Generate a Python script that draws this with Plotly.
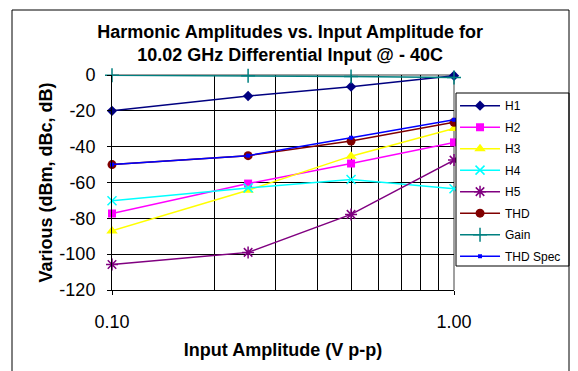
import plotly.graph_objects as go

# Input amplitude (V p-p)
amplitude = [0.10, 0.25, 0.50, 1.00]

# Measured levels for each series (dBm, dBc, dB)
h1 = [-20.0, -11.7, -6.5, -0.4]
h2 = [-77.3, -60.6, -49.4, -37.6]
h3 = [-87.0, -64.3, -45.3, -29.8]
h4 = [-70.2, -63.0, -58.3, -63.5]
h5 = [-105.8, -99.0, -77.8, -47.5]
thd = [-50.0, -45.0, -36.9, -26.4]
gain = [-0.2, -0.4, -0.9, -1.4]
thd_spec = [-50.0, -45.0, -35.0, -25.0]

# Axis ticks
x_tick_vals = [0.1, 1.0]
x_tick_text = ["0.10", "1.00"]
y_tick_vals = [0, -20, -40, -60, -80, -100, -120]
y_tick_text = ["0", "-20", "-40", "-60", "-80", "-100", "-120"]

series = [
    ("H1", h1, "#000080", "diamond", 8, 0),
    ("H2", h2, "#FF00FF", "square", 8, 0),
    ("H3", h3, "#FFFF00", "triangle-up", 10, 0),
    ("H4", h4, "#00FFFF", "x-thin", 9, 1.5),
    ("H5", h5, "#800080", "asterisk", 10, 1.5),
    ("THD", thd, "#800000", "circle", 9, 0),
    ("Gain", gain, "#008080", "cross-thin", 10, 1.5),
    ("THD Spec", thd_spec, "#0000FF", "square", 4, 0),
]

FONT = "Liberation Sans, Arial, sans-serif"

fig = go.Figure()
for name, values, color, symbol, size, mlw in series:
    fig.add_trace(go.Scatter(
        x=amplitude, y=values, name=name, legendgroup=name,
        mode="lines+markers", cliponaxis=False,
        line=dict(color=color, width=1.5),
        marker=dict(symbol=symbol, size=size, color=color,
                    line=dict(color=color, width=mlw)),
    ))

fig.update_layout(
    width=578, height=371,
    margin=dict(l=112, r=124, t=75, b=81),
    paper_bgcolor="white", plot_bgcolor="white",
    font=dict(family=FONT, size=18, color="black"),
    title=dict(
        text="<b>Harmonic Amplitudes vs. Input Amplitude for<br>10.02 GHz Differential Input @ - 40C</b>",
        x=0.502, xref="container", xanchor="center",
        y=1 - 37.5 / 371, yref="container", yanchor="middle",
        font=dict(size=18),
    ),
    showlegend=True,
    legend=dict(
        x=1.003, y=0.925, xanchor="left", yanchor="top",
        font=dict(size=12), bgcolor="rgba(0,0,0,0)", borderwidth=0,
        traceorder="grouped", tracegroupgap=2.5, itemwidth=40,
    ),
)

fig.update_xaxes(
    type="log", range=[-1, 0],
    tickvals=x_tick_vals, ticktext=x_tick_text,
    ticks="outside", ticklen=4, tickcolor="black",
    ticklabelstandoff=11,
    showline=True, linecolor="black", linewidth=1,
    showgrid=False, zeroline=False,
    minor=dict(tickvals=[0.2, 0.3, 0.4, 0.5, 0.6, 0.7, 0.8, 0.9],
               showgrid=True, gridcolor="black", gridwidth=1, ticks=""),
    title=dict(text="<b>Input Amplitude (V p-p)</b>", standoff=12,
               font=dict(size=18)),
)

fig.update_yaxes(
    range=[-120, 0],
    tickvals=y_tick_vals, ticktext=y_tick_text,
    ticks="outside", ticklen=4, tickcolor="black",
    ticklabelstandoff=8,
    showline=True, linecolor="black", linewidth=1,
    showgrid=True, gridcolor="black", gridwidth=1, zeroline=False,
    title=dict(text="<b>Various (dBm, dBc, dB)</b>", standoff=2,
               font=dict(size=18)),
)

# Plot-area frame on the top and right edges
fig.add_shape(type="line", xref="paper", yref="paper", x0=0, x1=1, y0=1, y1=1,
              line=dict(color="#808080", width=1.5), layer="below")
fig.add_shape(type="line", xref="paper", yref="paper", x0=1, x1=1, y0=0, y1=1,
              line=dict(color="#808080", width=1.5), layer="below")

# Pixel-to-paper helpers for the boxes around the legend and chart
px_w = 342.0
px_h = 215.0
def px_x(v):
    return (v - 112) / px_w
def px_y(v):
    return (290 - v) / px_h

fig.add_shape(type="rect", xref="paper", yref="paper",
              x0=px_x(456), x1=px_x(569), y0=px_y(266), y1=px_y(93),
              line=dict(color="black", width=1), fillcolor="white", layer="above")

fig.add_shape(type="rect", xref="paper", yref="paper",
              x0=px_x(12), x1=px_x(569), y0=px_y(380), y1=px_y(10),
              line=dict(color="black", width=1), fillcolor="rgba(0,0,0,0)",
              layer="above")

fig.write_html("out.html")
